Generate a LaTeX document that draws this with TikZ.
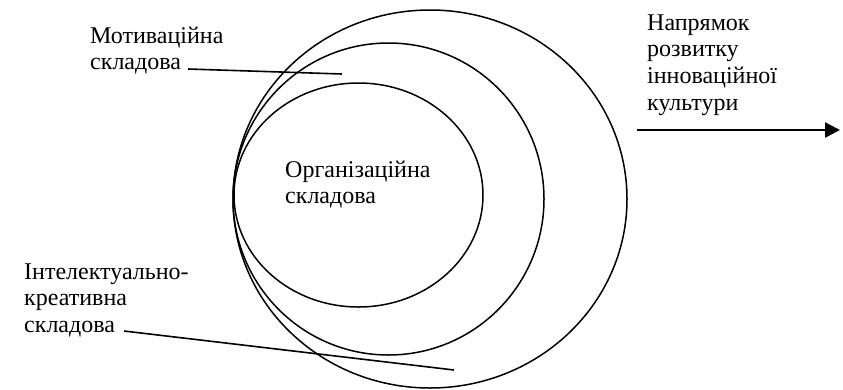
\documentclass[tikz,border=0pt]{standalone}
\usepackage{fontspec}
\setmainfont{Liberation Serif}
\usetikzlibrary{arrows.meta,shapes.geometric}
\newcommand{\blk}[1]{\begin{tabular}[t]{@{}l@{}}#1\end{tabular}}
\begin{document}
\begin{tikzpicture}[x=1pt,y=-1pt,
  lbl/.style={anchor=base west,inner sep=0pt,font=\fontsize{24}{26.8}\selectfont},
  ring/.style={draw,ellipse,line width=1.5pt,inner sep=0pt},
  leader/.style={line width=1.6pt},
  dirarrow/.style={line width=2.6pt,-{Triangle[length=15pt,width=15pt]}}]
\useasboundingbox (0,0) rectangle (843,389);
\node[ring,minimum width=394pt,minimum height=378pt] (outer) at (430,199) {};
\node[ring,minimum width=311pt,minimum height=312pt] (middle) at (388.5,199) {};
\node[ring,minimum width=249pt,minimum height=224pt] (inner) at (358.5,195) {};
\node[lbl] (org) at (285,177) {\blk{Організаційна\\складова}};
\node[lbl] (mot) at (90,43) {\blk{Мотиваційна\\складова}};
\node[lbl] (int) at (24,279) {\blk{Інтелектуально-\\креативна\\складова}};
\node[lbl] (nap) at (647,30) {\blk{Напрямок\\розвитку\\інноваційної\\культури}};
\coordinate (motS) at (188,69);
\coordinate (motE) at (342,74);
\coordinate (intS) at (124,331);
\coordinate (intE) at (454,370);
\coordinate (arrS) at (637,130);
\coordinate (arrE) at (840,130);
\draw[leader] (motS) -- (motE);
\draw[leader] (intS) -- (intE);
\draw[dirarrow] (arrS) -- (arrE);
\end{tikzpicture}
\end{document}
